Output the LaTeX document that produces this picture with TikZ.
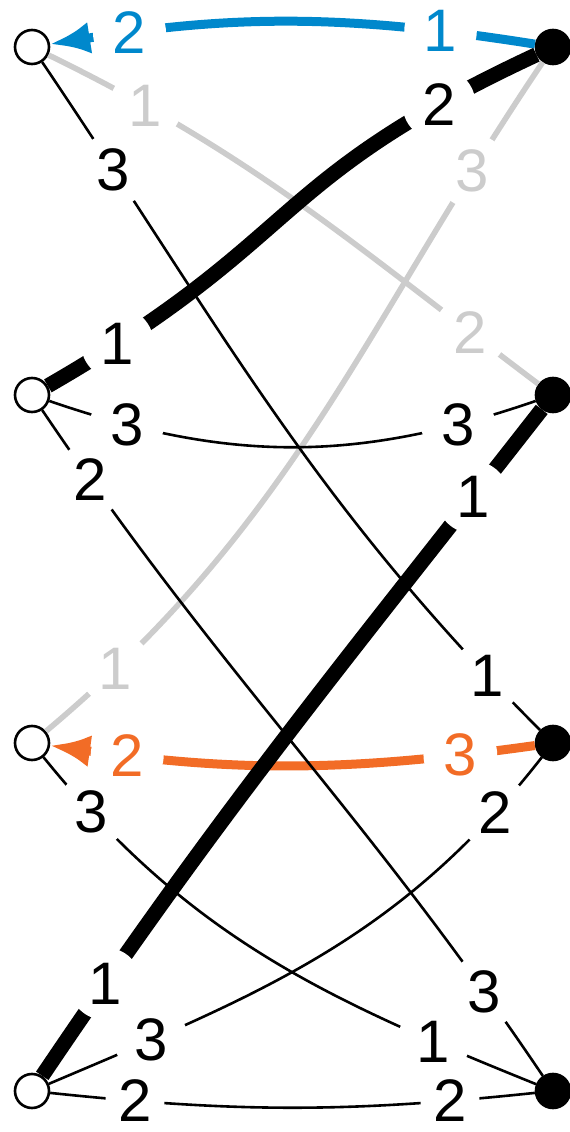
\documentclass[tikz,border=0pt]{standalone}
\usepackage{fontspec}
\setmainfont{Liberation Sans}
\usepackage{xcolor}
\usetikzlibrary{arrows.meta, positioning}
\definecolor{portblue}{RGB}{0,136,204}
\definecolor{portorange}{RGB}{242,108,38}
\definecolor{portgray}{RGB}{204,204,204}

\begin{document}
\begin{tikzpicture}[x=0.5pt, y=0.5pt, node distance=174pt and 260.5pt, on grid]
        \tikzstyle{open} = [circle, draw, fill=white, line width=1.3pt, minimum size=17pt, inner sep=0pt]
        \tikzstyle{closed} = [circle, draw, fill=black, line width=1.3pt, minimum size=17pt, inner sep=0pt]
        \tikzstyle{num} = [circle, fill=white, inner sep=3.5pt, font=\fontsize{30}{30}\selectfont]
        \tikzstyle{plain} = [draw, black, line width=1.3pt]
        \tikzstyle{heavy} = [draw, black, line width=7.5pt]
        \tikzstyle{faint} = [draw, portgray, line width=2.8pt]
        \tikzstyle{tip} = [draw, line width=4.5pt, -{Latex[length=20pt, width=16pt]}]
        \useasboundingbox (0,0) rectangle (569,1132);

        \node [open] (l1) at (32,1085) {};
        \node [open, below=of l1] (l2) {};
        \node [open, below=of l2] (l3) {};
        \node [open, below=of l3] (l4) {};
        \node [closed, right=of l1] (r1) {};
        \node [closed, right=of l2] (r2) {};
        \node [closed, right=of l3] (r3) {};
        \node [closed, right=of l4] (r4) {};

        \path [faint] (l1) to[out=-26, in=143] node [num, pos=0.17] {1} node [num, pos=0.87] {2} (r2);
        \path [faint] (r1) to[out=236, in=40] node [num, pos=0.14] {3} node [num, pos=0.9] {1} (l3);
        \path [tip, portblue] (r1) to[out=171, in=9] node [num, pos=0.18] {1} node [num, pos=0.85] {2} (l1);
        \path [tip, portorange] (r3) to[out=188, in=-8] node [num, pos=0.14] {3} node [num, pos=0.855] {2} (l3);
        \path [plain] (l1) to[out=-56, in=135] node [num, pos=0.14] {3} node [num, pos=0.92] {1} (r3);
        \path [plain] (l2) to[out=-19, in=199] node [num, pos=0.15] {3} node [num, pos=0.85] {3} (r2);
        \path [plain] (l2) to[out=-56, in=124] node [num, pos=0.09] {2} node [num, pos=0.89] {3} (r4);
        \path [plain] (l3) to[out=-51, in=158] node [num, pos=0.11] {3} node [num, pos=0.83] {1} (r4);
        \path [plain] (l4) to[out=23, in=232] node [num, pos=0.17] {3} node [num, pos=0.89] {2} (r3);
        \path [plain] (l4) to[out=-6, in=186] node [num, inner sep=1pt, pos=0.16] {2} node [num, inner sep=1pt, pos=0.84] {2} (r4);
        \path [heavy] (l2) to[out=30, in=205, looseness=1.3] node [num, pos=0.1] {1} node [num, pos=0.86] {2} (r1);
        \path [heavy] (r2) to[out=232, in=56] node [num, pos=0.12] {1} node [num, pos=0.88] {1} (l4);
\end{tikzpicture}
\end{document}
